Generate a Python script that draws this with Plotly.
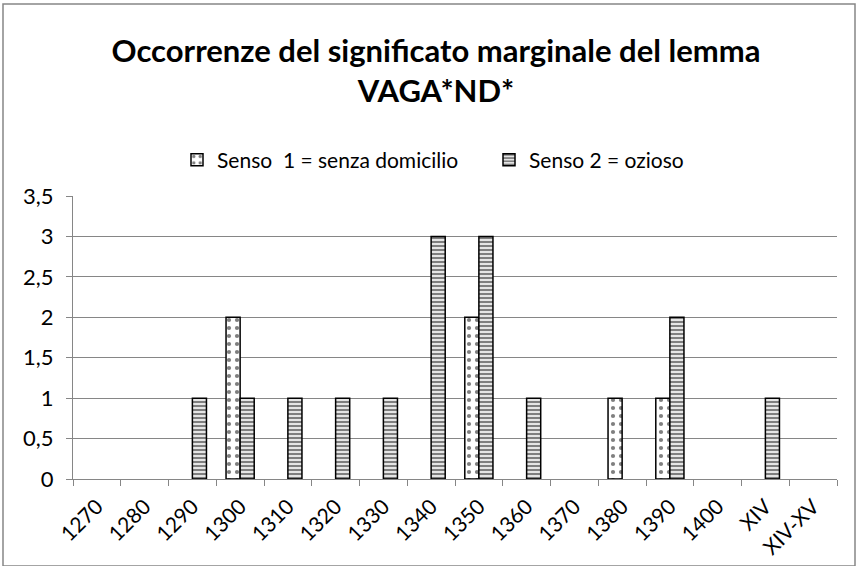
import plotly.graph_objects as go

categories = ["1270", "1280", "1290", "1300", "1310", "1320", "1330", "1340",
              "1350", "1360", "1370", "1380", "1390", "1400", "XIV", "XIV-XV"]
senso1 = [0, 0, 0, 2, 0, 0, 0, 0, 2, 0, 0, 1, 1, 0, 0, 0]
senso2 = [0, 0, 1, 1, 1, 1, 1, 3, 3, 1, 0, 0, 2, 0, 1, 0]
name1 = "Senso  1 = senza domicilio"
name2 = "Senso 2 = ozioso"
title_text = "Occorrenze del significato marginale del lemma<br>VAGA*ND*"

W, H = 858, 566
L, R, T, B = 73, 21, 196, 87
pw, ph = W - L - R, H - T - B

FONT = "Lato, 'Open Sans', sans-serif"


def px2x(p):
    return (p - L) / pw


def px2y(p):
    return (H - B - p) / ph


def hide_zero(vals):
    # zero-height bars are not drawn in the original chart
    return [v if v else None for v in vals]


fig = go.Figure()
fig.add_trace(go.Bar(
    x=categories, y=hide_zero(senso1), name=name1,
    marker=dict(color="white",
                line=dict(color="black", width=1.5),
                pattern=dict(shape=".", fgcolor="black", bgcolor="white",
                             size=8, solidity=0.22)),
))
fig.add_trace(go.Bar(
    x=categories, y=hide_zero(senso2), name=name2,
    marker=dict(color="white",
                line=dict(color="black", width=1.5),
                pattern=dict(shape="-", fgcolor="black", bgcolor="white",
                             size=4, solidity=0.6)),
))

fig.update_layout(
    width=W, height=H,
    margin=dict(l=L, r=R, t=T, b=B, autoexpand=False),
    paper_bgcolor="white", plot_bgcolor="white",
    separators=",.",
    barmode="group", bargap=0.41, bargroupgap=0,
    font=dict(family=FONT, color="black", size=19),
    title=dict(text=title_text, x=436 / W, xanchor="center",
               y=1 - 62 / H, yanchor="middle",
               font=dict(family=FONT, size=31, color="black", weight="bold")),
    legend=dict(orientation="h", x=px2x(177), xanchor="left",
                y=px2y(160), yanchor="middle",
                font=dict(family=FONT, size=21, color="black"),
                itemwidth=30, traceorder="normal", entrywidth=267),
    showlegend=True,
    xaxis=dict(type="category", tickangle=-45, tickson="boundaries",
               ticks="outside", ticklen=6, tickcolor="#868686",
               showline=True, linecolor="#868686", linewidth=1,
               showgrid=False, ticklabelstandoff=6, automargin=False,
               tickfont=dict(size=21, family=FONT)),
    yaxis=dict(range=[0, 3.5], dtick=0.5, tick0=0, ticks="outside",
               ticklen=6, tickcolor="#868686", showline=True,
               linecolor="#868686", linewidth=1, showgrid=True,
               gridcolor="#868686", gridwidth=1, zeroline=False,
               ticklabelstandoff=8, automargin=False,
               tickfont=dict(size=22, family=FONT)),
    shapes=[dict(type="rect", xref="paper", yref="paper",
                 x0=px2x(3), x1=px2x(855), y0=px2y(566), y1=px2y(4),
                 line=dict(color="#868686", width=1.5),
                 fillcolor="rgba(0,0,0,0)", layer="below")],
)

fig.write_html("out.html",
               config={"displayModeBar": False},
               post_script="document.body.style.margin='0';"
                           "document.body.style.overflow='hidden';")
